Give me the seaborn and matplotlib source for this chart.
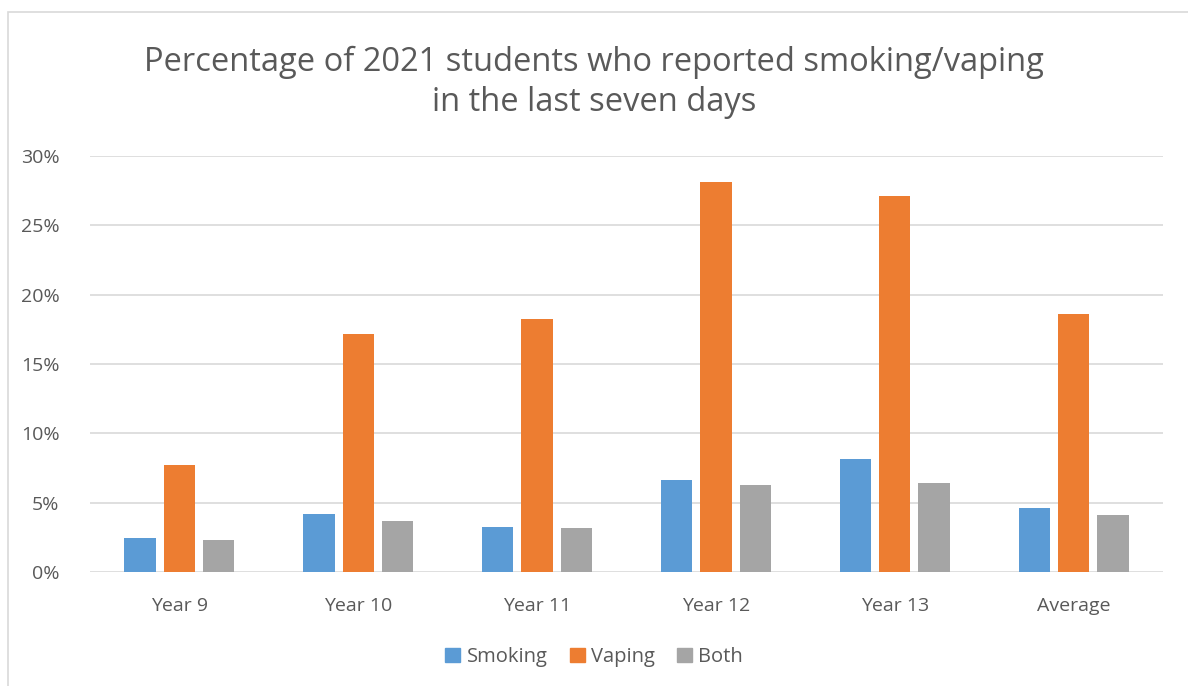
import numpy as np
import pandas as pd
import seaborn as sns
import matplotlib.pyplot as plt
from matplotlib.patches import Rectangle
from matplotlib.ticker import FuncFormatter

categories = ["Year 9", "Year 10", "Year 11", "Year 12", "Year 13", "Average"]
smoking = [2.43, 4.17, 3.21, 6.60, 8.12, 4.58]
vaping = [7.69, 17.15, 18.26, 28.09, 27.10, 18.64]
both = [2.29, 3.66, 3.19, 6.24, 6.39, 4.10]
series = ["Smoking", "Vaping", "Both"]
colors = ["#5B9BD5", "#ED7D31", "#A5A5A5"]

df = pd.DataFrame({
    "Category": categories * 3,
    "Series": ["Smoking"] * 6 + ["Vaping"] * 6 + ["Both"] * 6,
    "Value": smoking + vaping + both,
})

sns.set_theme(style="white")
plt.rcParams['font.family'] = ['Open Sans', 'DejaVu Sans']
text_color = "#595959"

fig = plt.figure(figsize=(11.88, 6.86), dpi=100)
fig.patches.append(Rectangle((8/1188, -0.1), 1.2, (686-12)/686 + 0.1,
                             transform=fig.transFigure, fill=False,
                             edgecolor="#D9D9D9", linewidth=1.2))
ax = fig.add_axes([90/1188, (686-572)/686, (1163-90)/1188, (572-156)/686])

sns.barplot(data=df, x="Category", y="Value", hue="Series", order=categories,
            hue_order=series, palette=colors, width=0.66, gap=0.2,
            saturation=1, ax=ax, legend=True, linewidth=0)

ax.set_ylim(0, 30)
ax.set_xlim(-0.5, 5.5)
ax.set_yticks([0, 5, 10, 15, 20, 25, 30])
ax.yaxis.set_major_formatter(FuncFormatter(lambda v, p: f"{int(v)}%"))
ax.grid(axis="y", color="#D9D9D9", linewidth=1.2)
ax.set_axisbelow(True)
for s in ax.spines.values():
    s.set_visible(False)
ax.set_xlabel("")
ax.set_ylabel("")
ax.tick_params(axis="both", length=0, labelsize=14, colors=text_color)
ax.tick_params(axis="y", pad=22)
ax.tick_params(axis="x", pad=18)

ax.legend_.remove()
handles = [Rectangle((0, 0), 1, 1, color=c) for c in colors]
fig.legend(handles, series, loc="center", bbox_to_anchor=(0.5, (686-657)/686),
           ncol=3, frameon=False, fontsize=14.5, handlelength=0.75,
           handleheight=0.75, handletextpad=0.3, columnspacing=1.1,
           labelcolor=text_color)

fig.text(0.5, (686-82)/686, "Percentage of 2021 students who reported smoking/vaping\nin the last seven days",
         ha="center", va="center", fontsize=23.5, color=text_color,
         linespacing=1.28, fontweight="normal")

fig.savefig("out.png", dpi=100)
